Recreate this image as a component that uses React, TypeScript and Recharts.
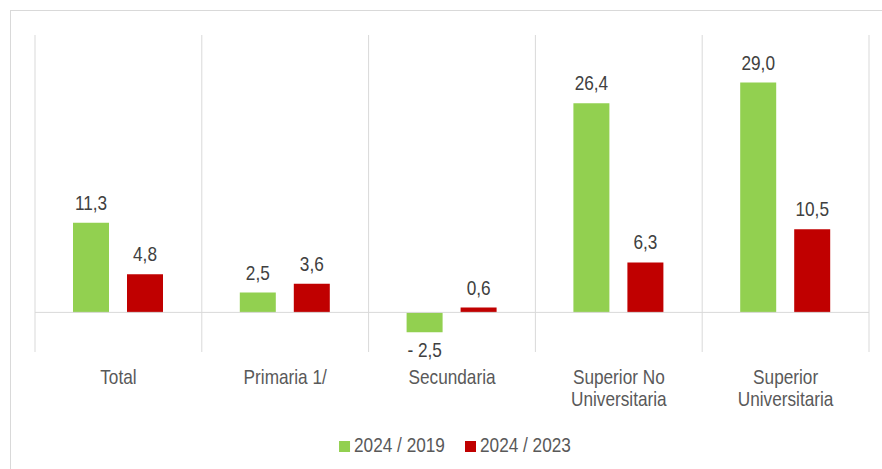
import { BarChart, Bar, XAxis, YAxis, CartesianGrid, ReferenceLine, Legend, LabelList } from 'recharts';

const categories = ['Total', 'Primaria 1/', 'Secundaria', 'Superior No Universitaria', 'Superior Universitaria'];
const tickLines = [['Total'], ['Primaria 1/'], ['Secundaria'], ['Superior No', 'Universitaria'], ['Superior', 'Universitaria']];
const vs2019 = [11.3, 2.5, -2.5, 26.4, 29.0];
const vs2023 = [4.8, 3.6, 0.6, 6.3, 10.5];
const seriesNames = ['2024 / 2019', '2024 / 2023'];

const GREEN = '#92D050';
const RED = '#C00000';
const GRID = '#d9d9d9';
// Arial Narrow look: Arial-metric font squeezed horizontally
const FONT = "'Liberation Sans', Arial, sans-serif";
const NARROW = 0.82;
const FS = 21;

const data = categories.map((name, i) => ({ name, a: vs2019[i], b: vs2023[i] }));

const fmt = (v: number) => (v < 0 ? '- ' : '') + Math.abs(v).toFixed(1).replace('.', ',');

function measure(s: string) {
  const ctx = document.createElement('canvas').getContext('2d');
  if (!ctx) return s.length * FS * 0.45;
  ctx.font = `${FS}px 'Liberation Sans'`;
  return ctx.measureText(s).width * NARROW;
}

function ValueLabel(props: any) {
  const { x, y, width, height, value } = props;
  const top = Math.min(y, y + height);
  const bottom = Math.max(y, y + height);
  const ty = value >= 0 ? top - 13 : bottom + 25;
  return (
    <text transform={`translate(${x + width / 2},${ty}) scale(${NARROW},1)`} textAnchor="middle" fill="#404040" fontSize={FS} fontFamily={FONT}>
      {fmt(value)}
    </text>
  );
}

function CategoryTick(props: any) {
  const { x, y, payload } = props;
  const lines = tickLines[categories.indexOf(payload.value)] || [payload.value];
  return (
    <text transform={`translate(${x},${y + 32}) scale(${NARROW},1)`} textAnchor="middle" fill="#595959" fontSize={FS} fontFamily={FONT}>
      {lines.map((l, i) => (
        <tspan key={i} x={0} dy={i === 0 ? 0 : 22.4}>{l}</tspan>
      ))}
    </text>
  );
}

function LegendBox(props: any) {
  const items = props.payload || [];
  const widths = items.map((it: any) => measure(String(it.value)));
  const total = widths.reduce((s: number, w: number) => s + w + 15, 0) + 20 * (items.length - 1);
  let cx = 455 - total / 2;
  return (
    <svg width={882} height={40} style={{ display: 'block' }}>
      {items.map((it: any, i: number) => {
        const x0 = cx;
        cx += 15 + widths[i] + 20;
        return (
          <g key={i}>
            <rect x={x0} y={12} width={11} height={11} fill={it.color} />
            <text transform={`translate(${x0 + 15},${23}) scale(${NARROW},1)`} fill="#595959" fontSize={FS} fontFamily={FONT}>
              {it.value}
            </text>
          </g>
        );
      })}
    </svg>
  );
}

export default function App() {
  return (
    <div style={{ position: 'absolute', left: 0, top: 0, width: 882, height: 469, overflow: 'hidden', background: '#fff' }}>
      <div style={{ position: 'absolute', left: 10, top: 10, width: 900, height: 500, border: `1px solid ${GRID}` }} />
      <div style={{ position: 'absolute', left: 0, top: 0 }}>
        <BarChart width={882} height={469} data={data} margin={{ top: 35, right: 13, left: 35, bottom: 0 }} barSize={36} barGap={18}>
          <CartesianGrid
            horizontal={false}
            stroke={GRID}
            verticalCoordinatesGenerator={({ offset }: any) =>
              categories.concat(['']).map((_, i) => offset.left + (i * offset.width) / categories.length)
            }
          />
          <XAxis dataKey="name" axisLine={false} tickLine={false} tickSize={0} tickMargin={0} height={77} interval={0} tick={<CategoryTick />} />
          <YAxis hide domain={[-5, 35]} />
          <ReferenceLine y={0} stroke={GRID} />
          <Legend verticalAlign="bottom" wrapperStyle={{ left: 0, width: 882 }} content={<LegendBox />} />
          <Bar dataKey="a" name={seriesNames[0]} fill={GREEN} isAnimationActive={false}>
            <LabelList dataKey="a" content={<ValueLabel />} />
          </Bar>
          <Bar dataKey="b" name={seriesNames[1]} fill={RED} isAnimationActive={false}>
            <LabelList dataKey="b" content={<ValueLabel />} />
          </Bar>
        </BarChart>
      </div>
    </div>
  );
}
